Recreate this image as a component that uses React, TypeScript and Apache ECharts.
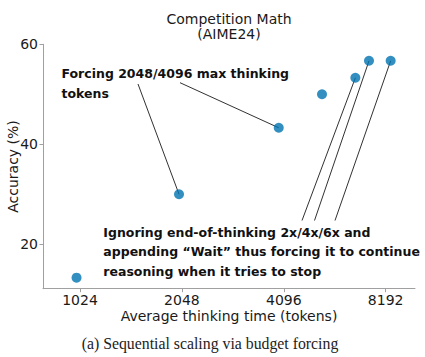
import React, { useEffect, useRef } from "react";
import * as echarts from "echarts";

const tokens = [1000, 2008, 3957, 5312, 6665, 7313, 8474];
const accuracy = [13.3, 30.0, 43.3, 50.0, 53.3, 56.7, 56.7];
const xTicks = [1024, 2048, 4096, 8192];
const yTicks = [20, 40, 60];

const titleLines = ["Competition Math", "(AIME24)"];
const noteForcing = "Forcing 2048/4096 max thinking\ntokens";
const noteIgnoring =
  "Ignoring end-of-thinking 2x/4x/6x and\nappending \u201cWait\u201d thus forcing it to continue\nreasoning when it tries to stop";
const caption = "(a) Sequential scaling via budget forcing";

// annotation: [text anchor px x, px y, target point index]
const forcingLinks: [number, number, number][] = [
  [138, 84, 1],
  [180, 82.7, 2],
];
const ignoringLinks: [number, number, number][] = [
  [302, 220.5, 4],
  [314.5, 220.5, 5],
  [335, 220.5, 6],
];

const FONT = "DejaVu Sans";
const TXT = "#1a1a1a";
const SPINE = "#a0a0a0";
const log2 = (v: number) => Math.log2(v);

export default function App() {
  const ref = useRef<HTMLDivElement>(null);
  useEffect(() => {
    if (!ref.current) return;
    const chart = echarts.init(ref.current, null, { renderer: "svg" });
    const xTickVals = xTicks.map(log2);
    chart.setOption({
      animation: false,
      grid: {
        left: 43,
        right: 10,
        top: 44.3,
        bottom: 68.3,
        containLabel: false,
        outerBoundsMode: "none",
      },
      xAxis: {
        type: "value",
        min: log2(796),
        max: log2(10000),
        name: "Average thinking time (tokens)",
        nameLocation: "middle",
        nameGap: 20.5,
        nameMoveOverlap: false,
        nameTextStyle: { fontFamily: FONT, fontSize: 14, color: TXT },
        axisLine: { show: true, lineStyle: { color: SPINE, width: 1 } },
        axisTick: { show: true, length: 3.5, lineStyle: { color: SPINE }, customValues: xTickVals },
        axisLabel: {
          fontFamily: FONT,
          fontSize: 14,
          color: TXT,
          margin: 4,
          customValues: xTickVals,
          formatter: (v: number) => String(Math.round(Math.pow(2, v))),
        },
        splitLine: { show: false },
      },
      yAxis: {
        type: "value",
        min: 11.1,
        max: 60,
        name: "Accuracy (%)",
        nameLocation: "middle",
        nameGap: 23.5,
        nameMoveOverlap: false,
        nameTextStyle: { fontFamily: FONT, fontSize: 14, color: TXT },
        axisLine: { show: true, lineStyle: { color: SPINE, width: 1 } },
        axisTick: { show: true, length: 3.5, lineStyle: { color: SPINE }, customValues: yTicks },
        axisLabel: {
          fontFamily: FONT,
          fontSize: 14,
          color: TXT,
          margin: 5,
          customValues: yTicks,
        },
        splitLine: { show: false },
      },
      series: [
        {
          type: "scatter",
          data: tokens.map((t, i) => [log2(t), accuracy[i]]),
          symbolSize: 10,
          itemStyle: { color: "#0173b2" },
          z: 5,
        },
      ],
    });

    const pts = tokens.map((t, i) =>
      chart.convertToPixel({ seriesIndex: 0 }, [log2(t), accuracy[i]]) as number[]
    );
    const links = [...forcingLinks, ...ignoringLinks].map(([x, y, idx]) => ({
      type: "line",
      z: 1,
      shape: { x1: x, y1: y, x2: pts[idx][0], y2: pts[idx][1] },
      style: { stroke: "#1a1a1a", lineWidth: 0.9 },
    }));

    chart.setOption({
      graphic: [
        {
          type: "text",
          x: 229,
          y: 19,
          style: {
            text: titleLines[0],
            fontFamily: FONT,
            fontSize: 14,
            fill: TXT,
            align: "center",
            verticalAlign: "middle",
          },
        },
        {
          type: "text",
          x: 229,
          y: 34,
          style: {
            text: titleLines[1],
            fontFamily: FONT,
            fontSize: 14,
            fill: TXT,
            align: "center",
            verticalAlign: "middle",
          },
        },
        ...links,
        {
          type: "text",
          x: 61.5,
          y: 64,
          z: 3,
          style: {
            text: noteForcing,
            fontFamily: FONT,
            fontWeight: "bold",
            fontSize: 12.5,
            lineHeight: 19.5,
            fill: "#111",
            align: "left",
            verticalAlign: "top",
          },
        },
        {
          type: "text",
          x: 103.3,
          y: 222.5,
          z: 3,
          style: {
            text: noteIgnoring,
            fontFamily: FONT,
            fontWeight: "bold",
            fontSize: 12.5,
            lineHeight: 19.5,
            fill: "#111",
            align: "left",
            verticalAlign: "top",
          },
        },
        {
          type: "text",
          x: 210,
          y: 343,
          style: {
            text: caption,
            fontFamily: "Liberation Serif",
            fontSize: 15.8,
            fill: "#222",
            align: "center",
            verticalAlign: "middle",
          },
        },
      ],
    });

    return () => chart.dispose();
  }, []);
  return <div ref={ref} style={{ width: 425, height: 357, position: "absolute", left: 0, top: 0 }} />;
}
